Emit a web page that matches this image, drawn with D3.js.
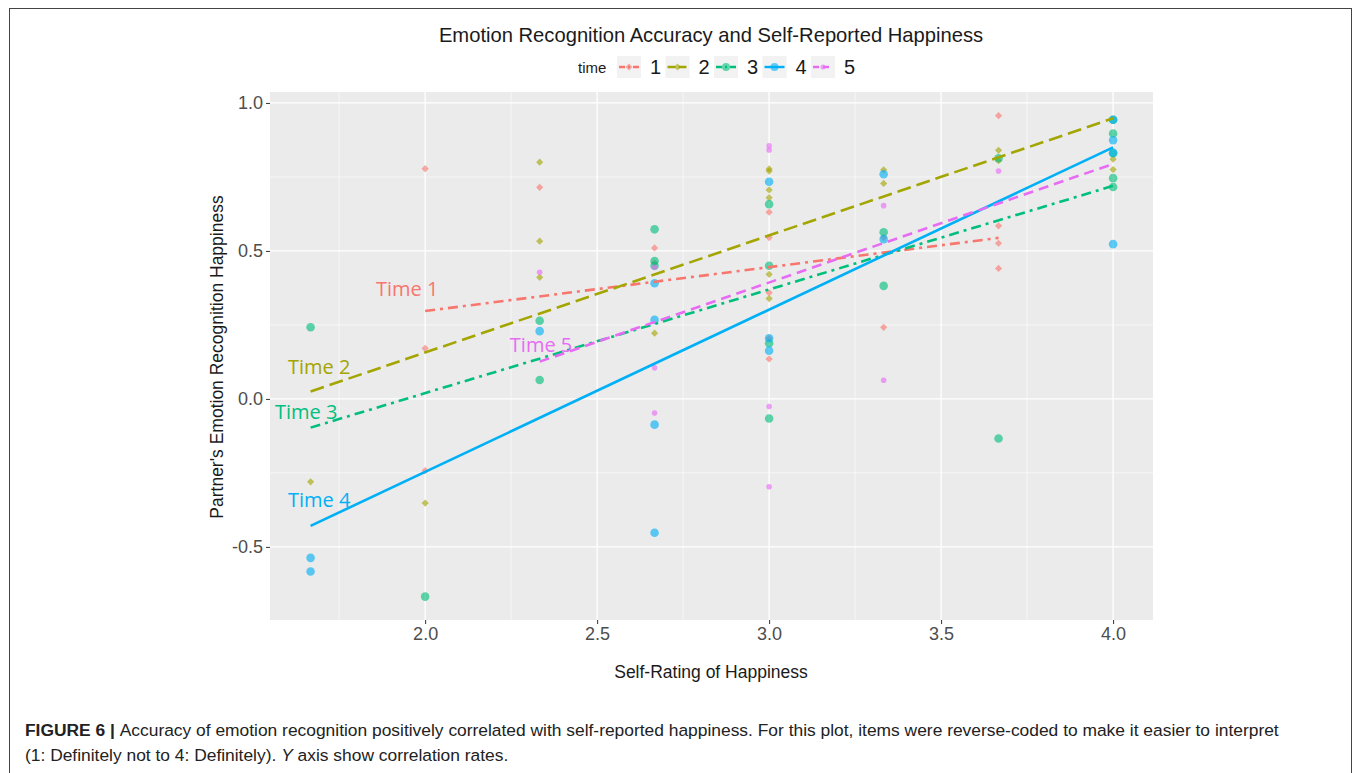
<!DOCTYPE html>
<html>
<head>
<meta charset="utf-8">
<script src="https://cdn.jsdelivr.net/npm/d3@7"></script>
<style>
  body { margin: 0; background: #fff; }
  svg { display: block; }
</style>
</head>
<body>
<script>

// ---- data ----
var times = ["1", "2", "3", "4", "5"];
var colors = ["#F8766D", "#A3A500", "#00BF7D", "#00B0F6", "#E76BF3"];

// points per time: [self rating, partner accuracy]
var pts1 = [[2.0,0.778],[2.0,0.171],[2.0,-0.242],[2.333,0.715],[2.667,0.51],[2.667,0.46],
  [3.0,0.631],[3.0,0.545],[3.0,0.359],[3.0,0.205],[3.0,0.135],[3.333,0.545],[3.333,0.242],
  [3.667,0.957],[3.667,0.585],[3.667,0.526],[3.667,0.441]];
var pts2 = [[1.667,-0.28],[2.0,-0.352],[2.333,0.80],[2.333,0.533],[2.333,0.411],[2.667,0.222],
  [3.0,0.777],[3.0,0.77],[3.0,0.706],[3.0,0.68],[3.0,0.421],[3.0,0.339],[3.333,0.774],
  [3.333,0.728],[3.667,0.84],[3.667,0.805],[4.0,0.81],[4.0,0.775]];
var pts3 = [[1.667,0.242],[2.0,-0.668],[2.333,0.264],[2.333,0.064],[2.667,0.573],[2.667,0.466],
  [2.667,0.45],[3.0,0.658],[3.0,0.45],[3.0,0.188],[3.0,-0.066],[3.333,0.563],[3.333,0.382],
  [3.667,0.813],[3.667,-0.134],[4.0,0.943],[4.0,0.897],[4.0,0.83],[4.0,0.746],[4.0,0.716]];
var pts4 = [[1.667,-0.537],[1.667,-0.583],[2.333,0.229],[2.667,0.391],[2.667,0.267],[2.667,-0.087],
  [2.667,-0.452],[3.0,0.734],[3.0,0.205],[3.0,0.163],[3.333,0.759],[3.333,0.54],[4.0,0.943],
  [4.0,0.874],[4.0,0.832],[4.0,0.523]];
var pts5 = [[2.333,0.428],[2.667,0.445],[2.667,0.105],[2.667,-0.048],[3.0,0.855],[3.0,0.841],
  [3.0,-0.026],[3.0,-0.297],[3.333,0.653],[3.333,0.063],[3.667,0.77]];
var points = [pts1, pts2, pts3, pts4, pts5];

// fitted lines (start x, end x, start y, end y)
var fitX0 = [2.0, 1.667, 1.667, 1.667, 2.333];
var fitX1 = [3.667, 4.0, 4.0, 4.0, 4.0];
var fitY0 = [0.297, 0.025, -0.097, -0.429, 0.126];
var fitY1 = [0.544, 0.948, 0.72, 0.85, 0.794];

// in-plot labels, placed in data units
var labelText = ["Time 1", "Time 2", "Time 3", "Time 4", "Time 5"];
var labelX = [1.948, 1.692, 1.654, 1.692, 2.337];
var labelY = [0.372, 0.108, -0.044, -0.341, 0.182];

var xTicks = [2.0, 2.5, 3.0, 3.5, 4.0];
var yTicks = [-0.5, 0.0, 0.5, 1.0];
var xMinor = [1.75, 2.25, 2.75, 3.25, 3.75];
var yMinor = [-0.75, -0.25, 0.25, 0.75];

// ---- styles ----
var dashes = ["10,5,3,5", "14,6", "10,5,3,5", null, "10,6"];
var legDashes = ["6,3,2,3", "8,3", "6,3,2,3", null, "6,4"];
var shapes = ["diamond", "diamond", "circle", "circle", "small"];

var W = 1355, H = 773;
var panel = {left: 270, right: 1153, top: 92, bottom: 620};

var svg = d3.select("body").append("svg")
    .attr("width", W)
    .attr("height", H);

// outer frame
svg.append("rect")
    .attr("x", 9.5).attr("y", 8.5)
    .attr("width", 1342).attr("height", 780)
    .attr("fill", "none")
    .attr("stroke", "#444")
    .attr("stroke-width", 1);

var x = d3.scaleLinear().domain([1.549, 4.116]).range([panel.left, panel.right]);
var y = d3.scaleLinear().domain([-0.747, 1.037]).range([panel.bottom, panel.top]);

// panel background
svg.append("rect")
    .attr("x", panel.left).attr("y", panel.top)
    .attr("width", panel.right - panel.left)
    .attr("height", panel.bottom - panel.top)
    .attr("fill", "#EBEBEB");

var grid = svg.append("g");
grid.selectAll(".xmin").data(xMinor).enter().append("line")
    .attr("x1", d => x(d)).attr("x2", d => x(d))
    .attr("y1", panel.top).attr("y2", panel.bottom)
    .attr("stroke", "#fff").attr("stroke-width", 0.6);
grid.selectAll(".ymin").data(yMinor).enter().append("line")
    .attr("y1", d => y(d)).attr("y2", d => y(d))
    .attr("x1", panel.left).attr("x2", panel.right)
    .attr("stroke", "#fff").attr("stroke-width", 0.6);
grid.selectAll(".xmaj").data(xTicks).enter().append("line")
    .attr("x1", d => x(d)).attr("x2", d => x(d))
    .attr("y1", panel.top).attr("y2", panel.bottom)
    .attr("stroke", "#fff").attr("stroke-width", 1.3);
grid.selectAll(".ymaj").data(yTicks).enter().append("line")
    .attr("y1", d => y(d)).attr("y2", d => y(d))
    .attr("x1", panel.left).attr("x2", panel.right)
    .attr("stroke", "#fff").attr("stroke-width", 1.3);

// axes (plain hyphen for negatives, like ggplot)
var fmt = function(d) { return d.toFixed(1); };
var xAxis = svg.append("g")
    .attr("transform", "translate(0," + panel.bottom + ")")
    .call(d3.axisBottom(x).tickValues(xTicks).tickFormat(fmt).tickSize(4).tickPadding(3));
var yAxis = svg.append("g")
    .attr("transform", "translate(" + panel.left + ",0)")
    .call(d3.axisLeft(y).tickValues(yTicks).tickFormat(fmt).tickSize(4).tickPadding(3));
[xAxis, yAxis].forEach(function(a) {
  a.select(".domain").remove();
  a.selectAll(".tick line").attr("stroke", "#333");
  a.selectAll(".tick text")
    .attr("fill", "#4D4D4D")
    .style("font-family", "'Liberation Sans', Arial, sans-serif")
    .style("font-size", "18px");
});

// points
var diamond = d3.symbol().type(d3.symbolSquare).size(26);
points.forEach(function(series, i) {
  var g = svg.append("g").attr("fill", colors[i]).attr("fill-opacity", 0.62);
  if (shapes[i] == "diamond") {
    g.selectAll("path").data(series).enter().append("path")
      .attr("d", diamond)
      .attr("transform", d => "translate(" + x(d[0]) + "," + y(d[1]) + ") rotate(45)");
  } else {
    g.selectAll("circle").data(series).enter().append("circle")
      .attr("cx", d => x(d[0]))
      .attr("cy", d => y(d[1]))
      .attr("r", shapes[i] == "circle" ? 4.3 : 2.8);
  }
});

// fitted lines
times.forEach(function(t, i) {
  svg.append("line")
    .attr("x1", x(fitX0[i])).attr("y1", y(fitY0[i]))
    .attr("x2", x(fitX1[i])).attr("y2", y(fitY1[i]))
    .attr("stroke", colors[i])
    .attr("stroke-width", 2.6)
    .attr("stroke-dasharray", dashes[i]);
});

// in-plot labels
svg.append("g").selectAll("text").data(labelText).enter().append("text")
    .attr("x", (d, i) => x(labelX[i]))
    .attr("y", (d, i) => y(labelY[i]))
    .attr("dy", "0.35em")
    .attr("text-anchor", "middle")
    .attr("fill", (d, i) => colors[i])
    .style("font-family", "'Open Sans', sans-serif")
    .style("font-size", "20px")
    .text(d => d);

// title
svg.append("text")
    .attr("x", 711).attr("y", 42)
    .attr("text-anchor", "middle")
    .style("font-family", "'Liberation Sans', Arial, sans-serif")
    .style("font-size", "20.2px")
    .attr("fill", "#1a1a1a")
    .text("Emotion Recognition Accuracy and Self-Reported Happiness");

// legend
var leg = svg.append("g");
leg.append("text")
    .attr("x", 578).attr("y", 73)
    .style("font-family", "'Liberation Sans', Arial, sans-serif")
    .style("font-size", "15px")
    .attr("fill", "#1a1a1a")
    .text("time");
times.forEach(function(t, i) {
  var kx = 617 + i * 48.5, ky = 67;
  leg.append("rect")
    .attr("x", kx).attr("y", ky - 11)
    .attr("width", 24).attr("height", 22)
    .attr("fill", "#F2F2F2");
  leg.append("line")
    .attr("x1", kx + 2).attr("x2", kx + 22)
    .attr("y1", ky).attr("y2", ky)
    .attr("stroke", colors[i]).attr("stroke-width", 2.4)
    .attr("stroke-dasharray", legDashes[i]);
  if (shapes[i] == "diamond") {
    leg.append("path").attr("d", diamond)
      .attr("transform", "translate(" + (kx + 12) + "," + ky + ") rotate(45)")
      .attr("fill", colors[i]).attr("fill-opacity", 0.6);
  } else {
    leg.append("circle").attr("cx", kx + 12).attr("cy", ky)
      .attr("r", shapes[i] == "circle" ? 4 : 2.6)
      .attr("fill", colors[i]).attr("fill-opacity", 0.6);
  }
  leg.append("text")
    .attr("x", kx + 33).attr("y", ky + 7)
    .style("font-family", "'Liberation Sans', Arial, sans-serif")
    .style("font-size", "20px")
    .attr("fill", "#1a1a1a")
    .text(t);
});

// axis titles
svg.append("text")
    .attr("x", 711).attr("y", 678)
    .attr("text-anchor", "middle")
    .style("font-family", "'Liberation Sans', Arial, sans-serif")
    .style("font-size", "17.5px")
    .attr("fill", "#1a1a1a")
    .text("Self-Rating of Happiness");
svg.append("text")
    .attr("transform", "translate(223,357) rotate(-90)")
    .attr("text-anchor", "middle")
    .style("font-family", "'Liberation Sans', Arial, sans-serif")
    .style("font-size", "17.5px")
    .attr("fill", "#1a1a1a")
    .text("Partner's Emotion Recognition Happiness");

// caption
var cap = svg.append("text")
    .attr("x", 25).attr("y", 736)
    .style("font-family", "'Liberation Sans Narrow', 'Liberation Sans', sans-serif")
    .style("font-size", "17.4px")
    .attr("fill", "#222");
cap.append("tspan").style("font-weight", "bold").text("FIGURE 6 | ");
cap.append("tspan").text("Accuracy of emotion recognition positively correlated with self-reported happiness. For this plot, items were reverse-coded to make it easier to interpret");
var cap2 = svg.append("text")
    .attr("x", 25).attr("y", 761)
    .style("font-family", "'Liberation Sans Narrow', 'Liberation Sans', sans-serif")
    .style("font-size", "17.4px")
    .attr("fill", "#222");
cap2.append("tspan").text("(1: Definitely not to 4: Definitely). ");
cap2.append("tspan").style("font-style", "italic").text("Y");
cap2.append("tspan").text(" axis show correlation rates.");

</script>
</body>
</html>
